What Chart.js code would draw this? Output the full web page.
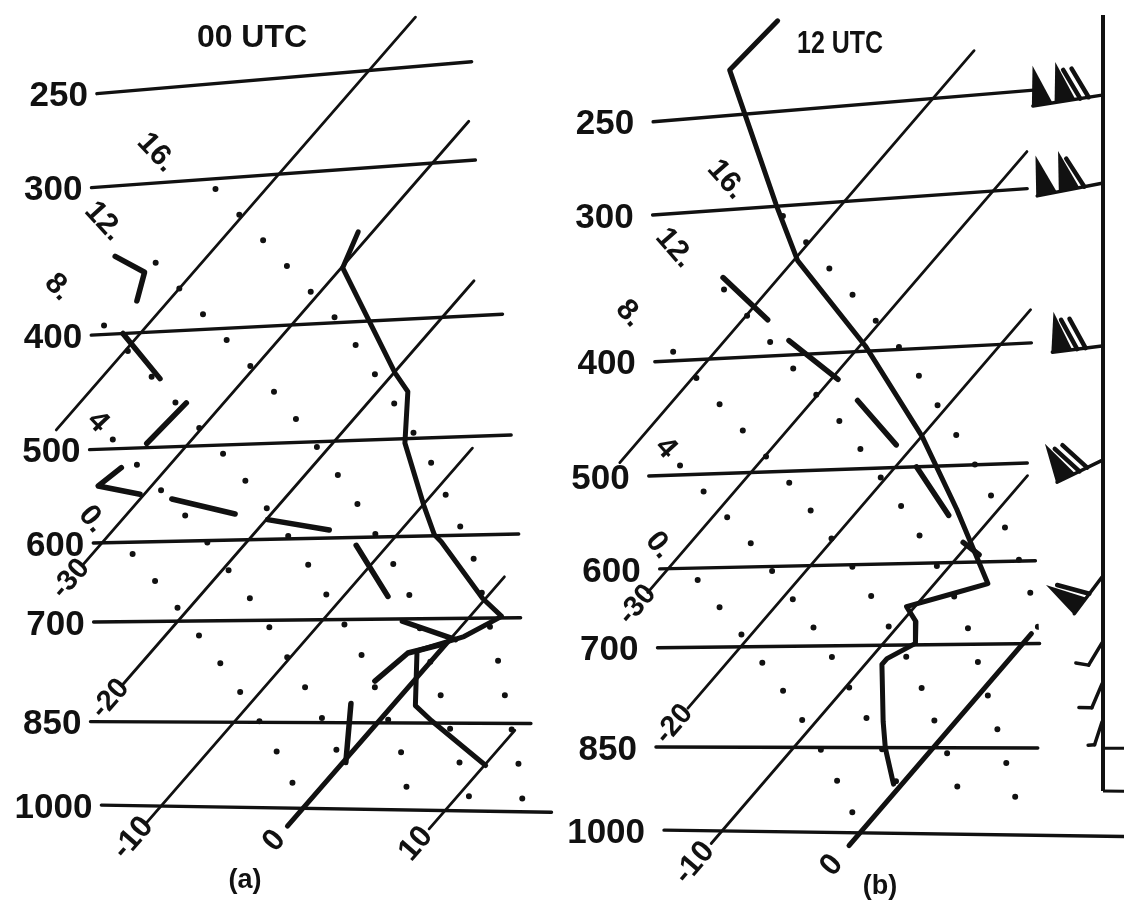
<!DOCTYPE html>
<html>
<head>
<meta charset="utf-8">
<title>Soundings 00 UTC / 12 UTC</title>
<script src="https://cdn.jsdelivr.net/npm/chart.js@4.4.1/dist/chart.umd.min.js"></script>
<style>
  html, body { margin: 0; padding: 0; background: #fff; }
  canvas { display: block; }
</style>
</head>
<body>
<canvas id="chart" width="1124" height="911"></canvas>
<script>
// isobars (hPa) and the temperature (°C) where each one starts / ends on the diagram
const isobars = [250, 300, 400, 500, 600, 700, 850, 1000];
const isobarLeftA = [-57.5, -52.2, -43.3, -36.5, -30.6, -25.8, -20.0, -14.2];
const isobarRightA = [-33.4, -27.2, -16.0, -8.1, -1.6, 3.6, 10.7, 17.5];
const isobarLeftB = [-58.6, -52.9, -43.7, -37.1, -30.6, -25.9, -19.9, -14.2];
const isobarRightB = [-33.3, -27.7, -17.9, -10.8, -4.2, 1.2, 7.5, 20.2];
const frameRightB = [-33.3, -27.7, -17.9, -10.8, -4.2, 1.2, 7.5, 13.0];

// isotherms (°C) with the pressures where they begin and end
const isothermsA = [-40, -30, -20, -10, 0, 10];
const isoBottomA = [480, 626, 793, 1035, 1035, 1035];
const isoTopA = [228, 279, 375, 511, 649, 861];
const isothermsB = [-40, -30, -20, -10, 0];
const isoBottomB = [486, 628, 788, 1025, 1025];
const isoTopB = [230, 280, 376, 512, 687];
const freezeA = [1035, 728];   // heavy part of the 0 °C line
const freezeB = [1025, 687];

// isotherm labels
const isoTickA = [-10, 0, 10];
const isoTickB = [-10, 0];
const isoTickP = 1065;
const isoSideT = [-30, -20];
const isoSideP = [643, 813];

// dotted moist adiabats, labelled 0 .. 16
const moistNames = ['0.', '4', '8.', '12.', '16.'];
const moistNameT = [-32.1, -37.6, -48.5, -49.3, -49.8];
const moistNameP = [573, 474, 363, 321, 283];
const moist0T = [-27.2, -20.4, -13.6, -7.0, -0.6];
const moist0P = [614, 687, 771, 868, 985];
const moist4T = [-35.5, -24.9, -14.9, -5.0, 1.1];
const moist4P = [491, 580, 688, 828, 938];
const moist8T = [-43.0, -25.8, -15.7, -5.8, 3.3, 5.9];
const moist8P = [393, 518, 615, 739, 895, 958];
const moist12T = [-43.2, -26.0, -16.0, -6.2, 2.4, 11.1];
const moist12P = [350, 462, 549, 659, 801, 980];
const moist16T = [-43.5, -26.2, -13.0, -3.7, 4.5, 12.6, 15.2];
const moist16P = [306, 404, 513, 620, 755, 923, 991];

// (a) 00 UTC sounding
const tempA_T = [-31.0, -29.9, -19.9, -17.9, -15.0, -9.9, -7.4, -6.5, -0.2, 2.2, 0.8, -1.6, 1.6, 3.6, 10.1];
const tempA_P = [338, 361, 442, 458, 504, 567, 599, 607, 675, 698, 724, 743, 823, 846, 919];
const dewA_T = [-46.4, -43.4, -42.2, null, -41.2, -35.9, null, -32.9, -32.6, null, -33.2, -33.7, -30.3, null,
                -27.8, -22.5, null, -19.9, -15.0, null, -12.2, -6.9, null, -4.4, 0.4, null, -0.2, -2.1, -2.7, null, -3.0, 0.2];
const dewA_P = [344, 356, 376, null, 400, 438, null, 496, 460, null, 519, 537, 547, null,
                553, 571, null, 578, 591, null, 609, 671, null, 703, 728, null, 734, 746, 786, null, 820, 916];

// (b) 12 UTC sounding
const tempB_T = [-55.9, -56.3, -44.7, -39.7, -29.6, -20.0, -13.0, -6.2, -8.4, -10.6, -9.0, -7.7, -8.8, -8.8, -5.2, -3.4, -0.6];
const tempB_P = [210, 229, 299, 334, 396, 472, 543, 625, 638, 651, 670, 698, 718, 726, 809, 851, 911];
const dewB_T = [-44.0, -38.2, null, -35.4, -29.5, null, -26.8, -21.3, null, -18.5, -13.2, null, -10.5, -8.6];
const dewB_P = [342, 373, null, 389, 421, null, 439, 479, null, 500, 549, null, 578, 592];

// winds for (b): pressure, direction (deg), speed (kt)
const windP = [255, 300, 405, 500, 620, 700, 755, 810];
const windDir = [261, 259, 263, 244, 217, 211, 203, 198];
const windKt = [120, 110, 70, 70, 60, 10, 10, 5];
const staffRange = [220, 920];
const boxLevels = [850, 920];

// ---- layout of the two skewed diagrams (chart units = canvas px) ----
const panels = {
  a: { y0: 805, k: 513, xr: 95, m0: 0.016, m1: 0.073, xb0: 303, dx: 14.2, s: 0.87, gap: 9 },
  b: { y0: 830, k: 511, xr: 655, m0: 0.014, m1: 0.070, xb0: 860, dx: 13.8, s: 0.86, gap: 19 }
};
const staffX = 1103;

function skew(P, T, p) {
  const L = Math.log(1000 / p);
  const yl = P.y0 - P.k * L;
  const m = P.m0 - P.m1 * L;
  const xb = P.xb0 + P.dx * T;
  const yb = P.y0 + P.m0 * (xb - P.xr);
  const x = (xb + P.s * (yb - yl + m * P.xr)) / (1 + P.s * m);
  return { x: x, y: yl + m * (x - P.xr) };
}
function yAt(P, p, x) {
  const L = Math.log(1000 / p);
  return P.y0 - P.k * L + (P.m0 - P.m1 * L) * (x - P.xr);
}
function pieces(Ts, Ps) {
  const out = [];
  let cur = [[], []];
  Ts.forEach((t, i) => {
    if (t === null) { out.push(cur); cur = [[], []]; }
    else { cur[0].push(t); cur[1].push(Ps[i]); }
  });
  out.push(cur);
  return out;
}

const datasets = [];
function addLine(key, Ts, Ps, opts) {
  const P = panels[key];
  datasets.push(Object.assign({
    data: Ts.map((t, i) => skew(P, t, Ps[i])),
    showLine: true, borderColor: '#111', borderWidth: 3, pointRadius: 0,
    tension: 0, borderCapStyle: 'round', borderJoinStyle: 'round'
  }, opts));
}

const moistLines = [[moist0T, moist0P], [moist4T, moist4P], [moist8T, moist8P], [moist12T, moist12P], [moist16T, moist16P]];
const setup = {
  a: { left: isobarLeftA, right: isobarRightA, frame: isobarRightA, iso: isothermsA, bot: isoBottomA, top: isoTopA, freeze: freezeA,
       tT: tempA_T, tP: tempA_P, dT: dewA_T, dP: dewA_P },
  b: { left: isobarLeftB, right: isobarRightB, frame: frameRightB, iso: isothermsB, bot: isoBottomB, top: isoTopB, freeze: freezeB,
       tT: tempB_T, tP: tempB_P, dT: dewB_T, dP: dewB_P }
};

Object.keys(setup).forEach(key => {
  const s = setup[key];
  moistLines.forEach(([Ts, Ps]) => addLine(key, Ts, Ps, { borderWidth: 6, borderDash: [0, 35], clipPanel: key }));
  s.iso.forEach((t, i) => addLine(key, [t, t], [s.bot[i], s.top[i]], { borderWidth: 2.8 }));
  isobars.forEach((p, i) => addLine(key, [s.left[i], s.right[i]], [p, p], { borderWidth: 3.4 }));
  addLine(key, [0, 0], s.freeze, { borderWidth: 5 });
  addLine(key, s.tT, s.tP, { borderWidth: 5 });
  pieces(s.dT, s.dP).forEach(([Ts, Ps]) => addLine(key, Ts, Ps, { borderWidth: 5.5 }));
});

// clip the dotted lines to each diagram's frame
const clipPlugin = {
  id: 'panelClip',
  beforeDatasetDraw(chart, args) {
    const ds = chart.data.datasets[args.index];
    if (!ds.clipPanel) return;
    const s = setup[ds.clipPanel], P = panels[ds.clipPanel];
    const xs = chart.scales.x, ys = chart.scales.y;
    const pts = isobars.map((p, i) => skew(P, s.left[i], p))
      .concat(isobars.map((p, i) => skew(P, s.frame[i], p)).reverse());
    const ctx = chart.ctx;
    ctx.save();
    ctx.beginPath();
    pts.forEach((q, i) => {
      const X = xs.getPixelForValue(q.x), Y = ys.getPixelForValue(q.y);
      if (i) ctx.lineTo(X, Y); else ctx.moveTo(X, Y);
    });
    ctx.closePath();
    ctx.clip();
  },
  afterDatasetDraw(chart, args) {
    if (chart.data.datasets[args.index].clipPanel) chart.ctx.restore();
  }
};

function rotText(ctx, text, x, y, ang) {
  ctx.save();
  ctx.translate(x, y);
  ctx.rotate(ang);
  ctx.fillText(text, 0, 0);
  ctx.restore();
}

const textPlugin = {
  id: 'diagramText',
  afterDatasetsDraw(chart) {
    const ctx = chart.ctx;
    const xs = chart.scales.x, ys = chart.scales.y;
    const pix = q => ({ x: xs.getPixelForValue(q.x), y: ys.getPixelForValue(q.y) });
    const font = '"Liberation Sans", Arial, sans-serif';
    ctx.save();
    ctx.fillStyle = '#111';
    ctx.textBaseline = 'middle';

    Object.keys(setup).forEach(key => {
      const P = panels[key], s = setup[key];
      // pressure labels at the left end of each isobar
      ctx.font = 'bold 35px ' + font;
      ctx.textAlign = 'right';
      isobars.forEach((p, i) => {
        const q = pix(skew(P, s.left[i], p));
        ctx.fillText(String(p), q.x - P.gap, q.y + 3);
      });
      ctx.textAlign = 'center';
      // isotherm labels, written along the isotherms
      const a0 = pix(skew(P, 0, 1000)), a1 = pix(skew(P, 0, 700));
      const isoAng = Math.atan2(a1.y - a0.y, a1.x - a0.x);
      ctx.font = 'bold 31px ' + font;
      (key === 'a' ? isoTickA : isoTickB).forEach(t => {
        const q = pix(skew(P, t, isoTickP));
        rotText(ctx, String(t), q.x, q.y, isoAng);
      });
      ctx.font = 'bold 29px ' + font;
      isoSideT.forEach((t, i) => {
        const q = pix(skew(P, t, isoSideP[i]));
        rotText(ctx, String(t), q.x, q.y, isoAng);
      });
      // moist adiabat labels, along their dotted lines
      ctx.font = 'bold 30px ' + font;
      moistNames.forEach((name, i) => {
        const [Ts, Ps] = moistLines[i];
        const b0 = pix(skew(P, Ts[0], Ps[0])), b1 = pix(skew(P, Ts[1], Ps[1]));
        const q = pix(skew(P, moistNameT[i], moistNameP[i]));
        rotText(ctx, name, q.x, q.y, Math.atan2(b1.y - b0.y, b1.x - b0.x));
      });
    });

    ctx.font = 'bold 32px ' + font;
    ctx.fillText('00 UTC', 252, 38);
    ctx.fillText('12 UTC', 840, 44, 86);
    ctx.font = 'bold 27px ' + font;
    ctx.fillText('(a)', 245, 881);
    ctx.fillText('(b)', 880, 887);
    ctx.restore();
  }
};

// wind staff and barbs on the right of (b)
function drawBarb(ctx, x, y, dirDeg, kt) {
  const r = dirDeg * Math.PI / 180;
  const d = { x: Math.sin(r), y: -Math.cos(r) };
  const n = { x: -d.y, y: d.x };
  const len = 22 + 0.4 * kt;
  const big = kt >= 50;
  const at = (u, v) => ({ x: x + d.x * u + n.x * v, y: y + d.y * u + n.y * v });
  ctx.lineWidth = 3.5;
  ctx.beginPath();
  let q = at(0, 0); ctx.moveTo(q.x, q.y);
  q = at(len, 0); ctx.lineTo(q.x, q.y);
  ctx.stroke();
  let pos = len;
  let rest = kt;
  while (rest >= 50) {
    const a = at(pos + 1, 0), b = at(pos - 20, 0), c = at(pos - 6, 40);
    ctx.beginPath(); ctx.moveTo(a.x, a.y); ctx.lineTo(c.x, c.y); ctx.lineTo(b.x, b.y); ctx.closePath(); ctx.fill();
    pos -= 23; rest -= 50;
  }
  const fl = big ? 31 : 12, gap = big ? 8.5 : 5;
  ctx.lineWidth = big ? 4.5 : 3.5;
  if (kt >= 50) pos -= 2;
  while (rest >= 10) {
    const a = at(pos, 0), b = at(pos + fl * 0.4, fl);
    ctx.beginPath(); ctx.moveTo(a.x, a.y); ctx.lineTo(b.x, b.y); ctx.stroke();
    pos -= gap; rest -= 10;
  }
  if (rest >= 5) {
    const a = at(pos, 0), b = at(pos + fl * 0.2, fl * 0.5);
    ctx.beginPath(); ctx.moveTo(a.x, a.y); ctx.lineTo(b.x, b.y); ctx.stroke();
  }
}

const barbPlugin = {
  id: 'windBarbs',
  afterDatasetsDraw(chart) {
    const ctx = chart.ctx, P = panels.b;
    const xs = chart.scales.x, ys = chart.scales.y;
    const X = xs.getPixelForValue(staffX);
    const Xr = xs.getPixelForValue(xs.max);
    ctx.save();
    ctx.strokeStyle = '#111';
    ctx.fillStyle = '#111';
    ctx.lineCap = 'butt';
    ctx.lineWidth = 4;
    ctx.beginPath();
    ctx.moveTo(X, ys.getPixelForValue(yAt(P, staffRange[0], staffX)));
    ctx.lineTo(X, ys.getPixelForValue(yAt(P, staffRange[1], staffX)));
    ctx.stroke();
    ctx.lineWidth = 3;
    boxLevels.forEach(p => {
      ctx.beginPath();
      ctx.moveTo(X, ys.getPixelForValue(yAt(P, p, staffX)));
      ctx.lineTo(Xr, ys.getPixelForValue(yAt(P, p, xs.max)));
      ctx.stroke();
    });
    ctx.lineCap = 'round';
    windP.forEach((p, i) => {
      drawBarb(ctx, X - 1, ys.getPixelForValue(yAt(P, p, staffX)), windDir[i], windKt[i]);
    });
    ctx.restore();
  }
};

const canvas = document.getElementById('chart');
new Chart(canvas, {
  type: 'scatter',
  data: { datasets: datasets },
  options: {
    responsive: false,
    animation: false,
    devicePixelRatio: 1,
    layout: { padding: 0 },
    scales: {
      x: { type: 'linear', min: 0, max: 1124, display: false },
      y: { type: 'linear', min: 0, max: 911, reverse: true, display: false }
    },
    plugins: { legend: { display: false }, tooltip: { enabled: false } }
  },
  plugins: [clipPlugin, textPlugin, barbPlugin]
});
</script>
</body>
</html>
